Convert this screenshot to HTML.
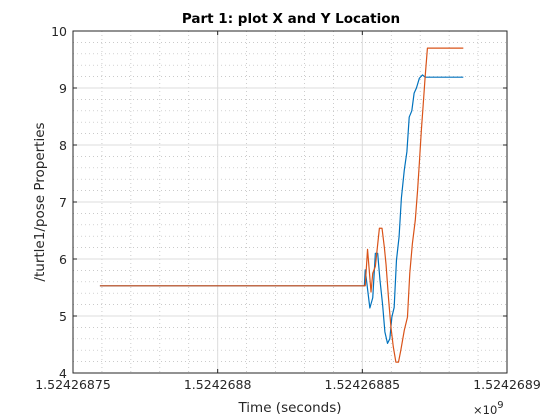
<!DOCTYPE html>
<html><head><meta charset="utf-8"><style>
body{margin:0;background:#fff;}
svg{display:block;font-family:"DejaVu Sans","Liberation Sans",sans-serif;}
</style></head><body>
<svg id="chart" width="560" height="420">
<rect x="0" y="0" width="560" height="420" fill="#ffffff"/>
<g id="grid"></g>
<g id="series"></g>
<g id="axes"></g>
</svg>
<script>
// time offsets in seconds relative to 1524268750
const xTickValues = [0, 50, 100, 150];
const xTickLabels = ["1.52426875", "1.5242688", "1.52426885", "1.5242689"];
const yTickValues = [4, 5, 6, 7, 8, 9, 10];
const yTickLabels = ["4", "5", "6", "7", "8", "9", "10"];
const blueT = [9.3, 100.7, 101.0, 102.6, 103.6, 104.5, 105.3, 106.1, 107.0, 107.8, 108.7, 109.5, 110.2, 111.0, 111.8, 112.7, 113.5, 114.5, 115.4, 116.2, 117.1, 117.9, 118.7, 119.7, 120.8, 121.7, 134.9];
const blueV = [5.53, 5.53, 5.81, 5.14, 5.32, 6.1, 6.1, 5.63, 5.2, 4.72, 4.52, 4.6, 4.98, 5.15, 5.98, 6.39, 7.07, 7.56, 7.88, 8.49, 8.6, 8.91, 9.0, 9.17, 9.23, 9.19, 9.19];
const orangeT = [9.3, 100.7, 101.0, 101.8, 103.0, 103.6, 104.5, 105.9, 106.8, 107.6, 108.2, 109.1, 109.9, 110.7, 111.6, 112.5, 113.3, 114.5, 115.6, 116.4, 117.3, 118.3, 119.1, 119.7, 120.4, 121.0, 121.7, 122.5, 134.9];
const orangeV = [5.53, 5.53, 5.53, 6.17, 5.42, 5.75, 5.87, 6.54, 6.54, 6.21, 5.9, 5.28, 4.8, 4.46, 4.19, 4.19, 4.4, 4.75, 4.98, 5.75, 6.27, 6.68, 7.21, 7.68, 8.26, 8.68, 9.19, 9.7, 9.7];

const L=73, R=507, T=31, B=373;
const xMin=0, xMax=150, yMin=4, yMax=10;
function sx(v){return L+(v-xMin)/(xMax-xMin)*(R-L);}
function sy(v){return B-(v-yMin)/(yMax-yMin)*(B-T);}
const NS="http://www.w3.org/2000/svg";
function mk(tag, attrs, parent){const e=document.createElementNS(NS,tag);for(const k in attrs)e.setAttribute(k,attrs[k]);parent.appendChild(e);return e;}
const grid=document.getElementById('grid'), series=document.getElementById('series'), axes=document.getElementById('axes');

for(let v=xMin; v<=xMax; v+=10){ if(v%50===0) continue;
  const l=mk('line',{x1:sx(v),x2:sx(v),y1:T,y2:B,stroke:'#b8b8b8','stroke-width':0.7,'stroke-dasharray':'1,3'},grid);
  
  
}
for(let i=0;i<=30;i++){ const v=yMin+i*0.2; if(i%5===0) continue;
  const l=mk('line',{x1:L,x2:R,y1:sy(v),y2:sy(v),stroke:'#b8b8b8','stroke-width':0.7,'stroke-dasharray':'1,3'},grid);
  
  
}
xTickValues.forEach(v=>{
  const l=mk('line',{x1:sx(v),x2:sx(v),y1:T,y2:B,stroke:'#dcdcdc','stroke-width':1},grid);
  
  
});
yTickValues.forEach(v=>{
  const l=mk('line',{x1:L,x2:R,y1:sy(v),y2:sy(v),stroke:'#dcdcdc','stroke-width':1},grid);
  
  
});

function path(ts,vs,color,name){
  let d='';
  ts.forEach((t,i)=>{d+=(i?'L':'M')+sx(t).toFixed(2)+','+sy(vs[i]).toFixed(2);});
  const p=mk('path',{d:d,fill:'none',stroke:color,'stroke-width':1.2,'stroke-linejoin':'round'},series);
  
  
}
path(blueT,blueV,'#0072BD','series-y-location');
path(orangeT,orangeV,'#D95319','series-x-location');

const box=mk('rect',{x:L,y:T,width:R-L,height:B-T,fill:'none',stroke:'#262626','stroke-width':1},axes);


xTickValues.forEach((v,i)=>{
  mk('line',{x1:sx(v),x2:sx(v),y1:B,y2:B-4,stroke:'#262626'},axes);
  mk('line',{x1:sx(v),x2:sx(v),y1:T,y2:T+4,stroke:'#262626'},axes);
  const t=mk('text',{x:sx(v),y:B+16,'text-anchor':'middle','font-size':12.5,fill:'#262626'},axes);
  t.textContent=xTickLabels[i];
  
  
});
yTickValues.forEach((v,i)=>{
  mk('line',{x1:L,x2:L+4,y1:sy(v),y2:sy(v),stroke:'#262626'},axes);
  mk('line',{x1:R,x2:R-4,y1:sy(v),y2:sy(v),stroke:'#262626'},axes);
  const t=mk('text',{x:L-6,y:sy(v)+5,'text-anchor':'end','font-size':12.5,fill:'#262626'},axes);
  t.textContent=yTickLabels[i];
  
  
});
</script>
<svg width="560" height="420" style="position:absolute;left:0;top:0;font-family:'DejaVu Sans','Liberation Sans',sans-serif;">
<text x="291" y="23" text-anchor="middle" font-size="13.5" font-weight="bold" fill="#000">Part 1: plot X and Y Location</text>
<text x="290" y="412" text-anchor="middle" font-size="13.5" fill="#262626">Time (seconds)</text>
<text transform="translate(44,202) rotate(-90)" text-anchor="middle" font-size="13.5" fill="#262626">/turtle1/pose Properties</text>
<text x="473" y="414" font-size="11.5" fill="#262626">×10<tspan dy="-6" font-size="10">9</tspan></text>
</svg>
</body></html>
